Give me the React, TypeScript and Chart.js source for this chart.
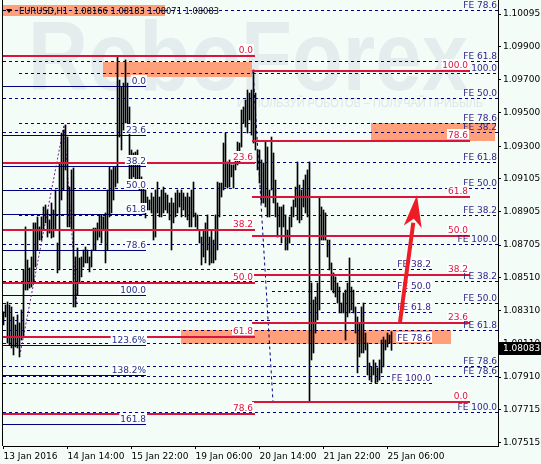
import React, { useEffect, useRef } from 'react';
import { Chart, registerables } from 'chart.js';

Chart.register(...registerables);

// ---------- DATA ----------
const title = 'EURUSD,H1  1.08166 1.08183 1.08071 1.08083';
const lastPrice = 1.08083;

const barHigh = [
  1.08302, 1.08344, 1.08362, 1.08344, 1.08332, 1.08272, 1.08224, 1.08284, 1.08236, 1.08314,
  1.08555, 1.08814, 1.08615, 1.08567, 1.08633, 1.08838, 1.08838, 1.08874, 1.08814, 1.08874,
  1.08934, 1.08946, 1.08916, 1.08856, 1.08958, 1.08916, 1.09036, 1.08717, 1.09199, 1.09379,
  1.09397, 1.09428, 1.09355, 1.09054, 1.09157, 1.09169, 1.08633, 1.08687, 1.08627, 1.08633,
  1.08675, 1.08693, 1.08675, 1.08633, 1.08675, 1.08807, 1.08807, 1.08838, 1.08886, 1.08886,
  1.08874, 1.08898, 1.09036, 1.09175, 1.09157, 1.09175, 1.09175, 1.09843, 1.09698, 1.09656,
  1.09680, 1.09819, 1.09680, 1.09536, 1.09277, 1.09259, 1.09265, 1.09277, 1.09217, 1.09115,
  1.09054, 1.09036, 1.08994, 1.08976, 1.09018, 1.08994, 1.09036, 1.09084, 1.08994, 1.09036,
  1.09054, 1.09018, 1.09006, 1.08958, 1.08988, 1.08958, 1.09018, 1.09036, 1.09018, 1.09036,
  1.09018, 1.08994, 1.09018, 1.08994, 1.09036, 1.09084, 1.08898, 1.08886, 1.08795, 1.08753,
  1.08795, 1.08838, 1.08886, 1.08753, 1.08795, 1.08735, 1.08886, 1.09084, 1.09078, 1.09078,
  1.09319, 1.09379, 1.09205, 1.09217, 1.09187, 1.09187, 1.09235, 1.09325, 1.09319, 1.09518,
  1.09536, 1.09578, 1.09638, 1.09620, 1.09638, 1.09759, 1.09620, 1.09277, 1.09277, 1.09217,
  1.09199, 1.09325, 1.09295, 1.09036, 1.09355, 1.09259, 1.09096, 1.08958, 1.08934, 1.08934,
  1.08946, 1.08886, 1.08795, 1.08874, 1.08934, 1.08976, 1.09054, 1.09205, 1.09066, 1.09036,
  1.09096, 1.09127, 1.09157, 1.09205, 1.08476, 1.08374, 1.08392, 1.08476, 1.08994, 1.08934,
  1.08916, 1.08898, 1.08735, 1.08735, 1.08597, 1.08537, 1.08513, 1.08476, 1.08452, 1.08356,
  1.08416, 1.08434, 1.08476, 1.08627, 1.08452, 1.08434, 1.08332, 1.08272, 1.08236, 1.08332,
  1.08356, 1.08175, 1.08115, 1.07995, 1.07971, 1.08013, 1.07995, 1.07965, 1.08013, 1.08133,
  1.08151, 1.08133, 1.08175, 1.08163, 1.08183,
];

const barLow = [
  1.08224, 1.08272, 1.08115, 1.08103, 1.08085, 1.08043, 1.08091, 1.08085, 1.08031, 1.08133,
  1.08151, 1.08434, 1.08434, 1.08446, 1.08452, 1.08476, 1.08573, 1.08675, 1.08735, 1.08735,
  1.08795, 1.08838, 1.08753, 1.08777, 1.08747, 1.08753, 1.08795, 1.08537, 1.08555, 1.08976,
  1.09036, 1.09157, 1.08814, 1.08814, 1.08795, 1.08332, 1.08332, 1.08404, 1.08476, 1.08513,
  1.08573, 1.08597, 1.08597, 1.08543, 1.08573, 1.08675, 1.08675, 1.08735, 1.08753, 1.08717,
  1.08795, 1.08597, 1.08675, 1.08874, 1.08898, 1.08976, 1.09054, 1.09078, 1.09355, 1.09277,
  1.09397, 1.09440, 1.09440, 1.09096, 1.09078, 1.09115, 1.09054, 1.09096, 1.09036, 1.08958,
  1.08898, 1.08868, 1.08916, 1.08916, 1.08898, 1.08735, 1.08753, 1.08898, 1.08874, 1.08874,
  1.08898, 1.08916, 1.08898, 1.08856, 1.08675, 1.08838, 1.08874, 1.08898, 1.08934, 1.08874,
  1.08916, 1.08874, 1.08856, 1.08814, 1.08814, 1.08874, 1.08814, 1.08795, 1.08717, 1.08585,
  1.08633, 1.08597, 1.08675, 1.08585, 1.08597, 1.08597, 1.08615, 1.08675, 1.08874, 1.08994,
  1.09036, 1.09054, 1.09048, 1.09054, 1.09115, 1.09048, 1.09157, 1.09187, 1.09199, 1.09295,
  1.09440, 1.09415, 1.09379, 1.09458, 1.09367, 1.09319, 1.09277, 1.09157, 1.09078, 1.08958,
  1.08958, 1.08934, 1.08874, 1.08874, 1.09036, 1.08958, 1.08874, 1.08753, 1.08814, 1.08717,
  1.08814, 1.08675, 1.08675, 1.08717, 1.08814, 1.08874, 1.08934, 1.08856, 1.08838, 1.08856,
  1.08934, 1.08898, 1.08874, 1.07760, 1.08013, 1.08055, 1.08175, 1.08254, 1.08314, 1.08735,
  1.08735, 1.08735, 1.08633, 1.08555, 1.08434, 1.08416, 1.08392, 1.08356, 1.08296, 1.08296,
  1.08296, 1.08133, 1.08272, 1.08296, 1.08314, 1.08296, 1.08175, 1.07935, 1.08031, 1.08055,
  1.08055, 1.08073, 1.07923, 1.07892, 1.07880, 1.07923, 1.07874, 1.07880, 1.07892, 1.07935,
  1.07971, 1.08073, 1.08091, 1.08115, 1.08071,
];

const yTickValues = [1.10095, 1.099, 1.097, 1.095, 1.093, 1.09105, 1.08905, 1.08705, 1.0851, 1.0831, 1.0811, 1.0791, 1.07715, 1.07515];
const xTickIndex = [0, 32, 64, 96, 128, 160, 192];
const xTickLabels = ['13 Jan 2016', '14 Jan 14:00', '15 Jan 22:00', '19 Jan 06:00', '20 Jan 14:00', '21 Jan 22:00', '25 Jan 06:00'];

// Red retracement A (bar index span)
const redALevels = ['0.0', '23.6', '38.2', '50.0', '61.8', '78.6'];
const redAPrices = [1.09843, 1.09197, 1.08797, 1.08475, 1.08152, 1.07688];
const redASpan = [-0.25, 125.75];
// Red retracement B
const redBLevels = ['100.0', '78.6', '61.8', '50.0', '38.2', '23.6', '0.0'];
const redBPrices = [1.09753, 1.0933, 1.08993, 1.0876, 1.08525, 1.08235, 1.07762];
const redBSpan = [124.25, 233.25];
// Blue retracement / extension
const blueLevels = ['0.0', '23.6', '38.2', '50.0', '61.8', '78.6', '100.0', '123.6%', '138.2%', '161.8'];
const bluePrices = [1.09662, 1.09365, 1.09181, 1.09036, 1.08889, 1.08673, 1.08404, 1.08105, 1.07922, 1.07625];
const blueSpan = [-0.25, 71.25];
// Fibonacci expansion (dashed) levels
const feLabels = ['FE 78.6', 'FE 61.8', '100.0', 'FE 50.0', 'FE 78.6', 'FE 38.2', 'FE 61.8', 'FE 50.0', 'FE 38.2', 'FE 100.0', 'FE 38.2',
  'FE 38.2', 'FE 50.0', 'FE 50.0', 'FE 61.8', '', 'FE 61.8', 'FE 78.6', 'FE 78.6', 'FE 78.6', 'FE 100.0', 'FE 100.0'];
const fePrices = [1.10117, 1.09811, 1.09739, 1.09592, 1.09438, 1.09384, 1.09207, 1.09046, 1.08884, 1.08709, 1.08559,
  1.0849, 1.08428, 1.08353, 1.08304, 1.08254, 1.08194, 1.08113, 1.07977, 1.07916, 1.07873, 1.07702];
const feStart = [-0.25, -0.25, 7.75, -0.25, 7.75, -0.25, 7.75, 7.75, 7.75, -0.25, -0.25,
  -0.25, 134.25, -0.25, -0.25, -0.25, -0.25, -0.25, -0.25, -0.25, -0.25, -0.25];
const feEnd = [247.25, 247.25, 247.25, 247.25, 247.25, 247.25, 247.25, 247.25, 247.25, 247.25, 214.25,
  247.25, 214.25, 247.25, 214.25, 133.25, 247.25, 214.25, 247.25, 247.25, 214.25, 247.25];
// Highlight rectangles
const rectX1 = [-0.25, 49.75, 183.75, 88.75];
const rectX2 = [80.75, 124.25, 245.75, 223.75];
const rectTop = [1.10147, 1.09809, 1.0944, 1.08194];
const rectBottom = [1.10084, 1.09718, 1.09331, 1.08109];
// Arrow & trend lines
const arrowFrom = [198.25, 1.08242];
const arrowTo = [206.75, 1.09006];
const trendLine = [[124.75, 1.09753], [134.75, 1.07762]];
const zigzag = [[8.5, 1.08061], [30.25, 1.09428], [36.75, 1.08344]];

// ---------- STYLE ----------
const BG = '#f4fcf8';
const RED = '#dc143c';
const NAVY = '#000080';
const FE_COLOR = '#2b1f86';
const BLUE_TXT = '#1f2f86';
const SALMON = '#ffa07a';
const FONT = '9px "DejaVu Sans"';

function drawLabel(ctx: CanvasRenderingContext2D, text: string, xRight: number, yLine: number, color: string, bg: string | null) {
  if (!text) return;
  ctx.font = FONT;
  const w = ctx.measureText(text).width;
  const x = xRight - w;
  if (bg) {
    ctx.fillStyle = bg;
    ctx.fillRect(x - 1, yLine - 11, w + 2, 10);
  }
  ctx.fillStyle = color;
  ctx.textAlign = 'left';
  ctx.textBaseline = 'alphabetic';
  ctx.fillText(text, x, yLine - 2.5);
}

const overlay = {
  id: 'overlay',
  beforeDraw(chart: any) {
    const { ctx, width, height } = chart;
    ctx.save();
    ctx.fillStyle = BG;
    ctx.fillRect(0, 0, width, height);
    ctx.fillStyle = '#e4eded';
    ctx.textAlign = 'left';
    ctx.textBaseline = 'alphabetic';
    ctx.font = 'bold 98px "Liberation Sans"';
    ctx.fillText('RoboForex', 28, 90, 440);
    ctx.fillStyle = '#dde7e7';
    ctx.font = '13px "Liberation Sans"';
    ctx.fillText('ИСПОЛЬЗУЙ РОБОТОВ – ПОЛУЧАЙ ПРИБЫЛЬ', 237, 107, 246);
    ctx.restore();
  },
  beforeDatasetsDraw(chart: any) {
    const { ctx, chartArea: a, scales } = chart;
    const X = (v: number) => scales.x.getPixelForValue(v);
    const Y = (v: number) => scales.y.getPixelForValue(v);
    ctx.save();
    ctx.beginPath();
    ctx.rect(a.left, a.top, a.right - a.left, a.bottom - a.top);
    ctx.clip();
    ctx.fillStyle = SALMON;
    for (let i = 0; i < rectX1.length; i++) {
      const x1 = X(rectX1[i]), x2 = X(rectX2[i]);
      const y1 = Math.round(Y(rectTop[i])), y2 = Math.round(Y(rectBottom[i]));
      ctx.fillRect(x1, y1, x2 - x1, y2 - y1);
    }
    ctx.strokeStyle = NAVY;
    ctx.lineWidth = 1;
    ctx.setLineDash([3, 3]);
    for (let i = 0; i < fePrices.length; i++) {
      const y = Math.round(Y(fePrices[i])) + 0.5;
      ctx.beginPath();
      ctx.moveTo(X(feStart[i]), y);
      ctx.lineTo(X(feEnd[i]), y);
      ctx.stroke();
    }
    ctx.beginPath();
    ctx.moveTo(X(trendLine[0][0]), Y(trendLine[0][1]));
    ctx.lineTo(X(trendLine[1][0]), Y(trendLine[1][1]));
    ctx.stroke();
    ctx.setLineDash([]);
    for (let i = 0; i < bluePrices.length; i++) {
      const y = Math.round(Y(bluePrices[i])) + 0.5;
      ctx.beginPath();
      ctx.moveTo(X(blueSpan[0]), y);
      ctx.lineTo(X(blueSpan[1]), y);
      ctx.stroke();
    }
    ctx.strokeStyle = '#7a1a9a';
    ctx.setLineDash([2, 2]);
    ctx.beginPath();
    zigzag.forEach((p, k) => {
      const px = X(p[0]), py = Y(p[1]);
      if (k === 0) ctx.moveTo(px, py); else ctx.lineTo(px, py);
    });
    ctx.stroke();
    ctx.restore();
  },
  afterDatasetsDraw(chart: any) {
    const { ctx, chartArea: a, scales } = chart;
    const X = (v: number) => scales.x.getPixelForValue(v);
    const Y = (v: number) => scales.y.getPixelForValue(v);
    ctx.save();
    ctx.beginPath();
    ctx.rect(a.left, a.top, a.right - a.left, a.bottom - a.top);
    ctx.clip();
    ctx.strokeStyle = RED;
    ctx.lineWidth = 2;
    const redLine = (p: number, s: number[]) => {
      const y = Math.round(Y(p));
      ctx.beginPath();
      ctx.moveTo(X(s[0]), y);
      ctx.lineTo(X(s[1]), y);
      ctx.stroke();
    };
    redAPrices.forEach((p) => redLine(p, redASpan));
    redBPrices.forEach((p) => redLine(p, redBSpan));
    for (let i = 0; i < fePrices.length; i++) {
      const y = Math.round(Y(fePrices[i]));
      drawLabel(ctx, feLabels[i], X(feEnd[i]) - 1, y, FE_COLOR, feEnd[i] > 240 ? null : '#ffffff');
    }
    for (let i = 0; i < bluePrices.length; i++) {
      drawLabel(ctx, blueLevels[i], X(blueSpan[1]), Math.round(Y(bluePrices[i])), BLUE_TXT, '#ffffff');
    }
    for (let i = 0; i < redAPrices.length; i++) {
      drawLabel(ctx, redALevels[i], X(redASpan[1]) - 2, Math.round(Y(redAPrices[i])) - 1, RED, '#ffffff');
    }
    for (let i = 0; i < redBPrices.length; i++) {
      drawLabel(ctx, redBLevels[i], X(redBSpan[1]) - 2, Math.round(Y(redBPrices[i])) - 1, RED, '#ffffff');
    }
    const x0 = X(arrowFrom[0]), y0 = Y(arrowFrom[1]);
    const x1 = X(arrowTo[0]), y1 = Y(arrowTo[1]);
    const len = Math.hypot(x1 - x0, y1 - y0);
    const ux = (x1 - x0) / len, uy = (y1 - y0) / len;
    const headLen = 32, headHalf = 9;
    const bx = x1 - ux * headLen, by = y1 - uy * headLen;
    ctx.strokeStyle = '#ee1c25';
    ctx.fillStyle = '#ee1c25';
    ctx.lineWidth = 4;
    ctx.beginPath();
    ctx.moveTo(x0, y0);
    ctx.lineTo(bx + ux * 4, by + uy * 4);
    ctx.stroke();
    ctx.beginPath();
    ctx.moveTo(x1, y1);
    ctx.lineTo(bx - uy * headHalf, by + ux * headHalf);
    ctx.lineTo(bx + ux * 8, by + uy * 8);
    ctx.lineTo(bx + uy * headHalf, by - ux * headHalf);
    ctx.closePath();
    ctx.fill();
    ctx.fillStyle = '#000';
    ctx.beginPath();
    ctx.moveTo(6, 9);
    ctx.lineTo(12, 9);
    ctx.lineTo(9, 13);
    ctx.closePath();
    ctx.fill();
    ctx.font = FONT;
    ctx.textBaseline = 'middle';
    ctx.textAlign = 'left';
    ctx.fillText(title, 19, 11.5, 200);
    ctx.restore();
  },
  afterDraw(chart: any) {
    const { ctx, chartArea: a, scales } = chart;
    ctx.save();
    ctx.strokeStyle = '#000';
    ctx.lineWidth = 1;
    ctx.beginPath();
    ctx.moveTo(a.left - 0.5, a.top);
    ctx.lineTo(a.left - 0.5, a.bottom);
    ctx.stroke();
    const y = Math.round(scales.y.getPixelForValue(lastPrice));
    ctx.fillStyle = '#000';
    ctx.fillRect(a.right + 1, y - 6, 42, 13);
    ctx.fillStyle = '#fff';
    ctx.font = FONT;
    ctx.textBaseline = 'middle';
    ctx.textAlign = 'left';
    ctx.fillText(lastPrice.toFixed(5), a.right + 5, y + 0.5);
    ctx.restore();
  },
};

export default function App() {
  const ref = useRef<HTMLCanvasElement>(null);
  useEffect(() => {
    document.body.style.margin = '0';
    const canvas = ref.current!;
    const tickFont = { family: 'DejaVu Sans', size: 9 };
    const chart = new Chart(canvas, {
      type: 'bar',
      data: {
        datasets: [
          {
            data: barHigh.map((h, i) => ({ x: i, y: [barLow[i], h] })) as any,
            backgroundColor: '#000000',
            borderWidth: 0,
            barThickness: 1,
            grouped: false,
          } as any,
        ],
      },
      options: {
        responsive: false,
        animation: false,
        devicePixelRatio: 1,
        events: [],
        layout: { padding: { left: 3, right: 0, top: 0, bottom: 0 } },
        plugins: { legend: { display: false }, tooltip: { enabled: false } },
        scales: {
          x: {
            type: 'linear',
            min: -0.25,
            max: 247.25,
            offset: false,
            afterBuildTicks: (s: any) => {
              s.ticks = xTickIndex.map((v) => ({ value: v }));
            },
            afterFit: (s: any) => {
              s.height = 18;
              s.paddingLeft = 0;
              s.paddingRight = 0;
            },
            grid: { drawOnChartArea: false, drawTicks: true, tickLength: 3, color: '#000', offset: false },
            border: { display: true, color: '#000' },
            ticks: {
              autoSkip: false,
              maxRotation: 0,
              minRotation: 0,
              align: 'start',
              padding: 2,
              color: '#000',
              font: tickFont,
              callback: (v: any) => {
                const k = xTickIndex.indexOf(Number(v));
                return k >= 0 ? xTickLabels[k] : '';
              },
            },
          },
          y: {
            type: 'linear',
            position: 'right',
            min: 1.07495,
            max: 1.1018,
            beginAtZero: false,
            afterBuildTicks: (s: any) => {
              s.ticks = yTickValues.map((v) => ({ value: v }));
            },
            afterFit: (s: any) => {
              s.width = 43;
              s.paddingTop = 0;
              s.paddingBottom = 0;
            },
            grid: { drawOnChartArea: false, drawTicks: true, tickLength: 3, color: '#000' },
            border: { display: true, color: '#000' },
            ticks: {
              padding: 2,
              color: '#000',
              font: tickFont,
              callback: (v: any) => Number(v).toFixed(5),
            },
          },
        } as any,
      },
      plugins: [overlay],
    });
    return () => chart.destroy();
  }, []);
  return (
    <div style={{ width: 541, height: 464 }}>
      <canvas ref={ref} width={541} height={464} style={{ display: 'block' }} />
    </div>
  );
}
